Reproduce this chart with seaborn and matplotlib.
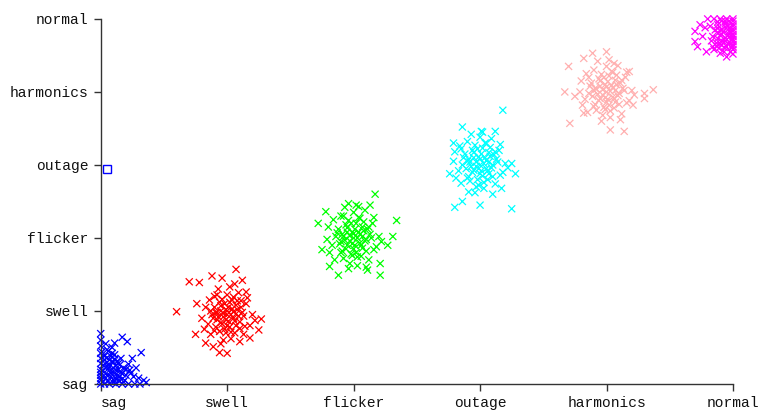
import numpy as np
import pandas as pd
import matplotlib
matplotlib.use('Agg')
import matplotlib.pyplot as plt
import seaborn as sns

categories = ['sag', 'swell', 'flicker', 'outage', 'harmonics', 'normal']
colors = ['#0000ff', '#ff0000', '#00ff00', '#00ffff', '#ffb0b0', '#ff00ff']

# points (category units, clipped to 0..5)
sag_x = [0.0, 0.0, 0.0, 0.0, 0.0, 0.0, 0.0, 0.0, 0.0, 0.0,
         0.03, 0.07, 0.12, 0.17, 0.22, 0.27, 0.31, 0.36,
         0.04, 0.08, 0.05, 0.1, 0.13, 0.09, 0.03, 0.15, 0.18, 0.06, 0.11, 0.02,
         0.07, 0.14, 0.2, 0.16, 0.04, 0.09, 0.19, 0.24, 0.22, 0.12, 0.05, 0.1,
         0.17, 0.32, 0.34, 0.21, 0.25, 0.23, 0.30, 0.11, 0.05, 0.28, 0.26]
sag_y = [0.0, 0.05, 0.12, 0.2, 0.28, 0.35, 0.42, 0.52, 0.69, 0.6,
         0.0, 0.0, 0.0, 0.0, 0.0, 0.0, 0.0, 0.02,
         0.08, 0.15, 0.25, 0.06, 0.18, 0.3, 0.38, 0.1, 0.22, 0.45, 0.4, 0.18,
         0.33, 0.28, 0.12, 0.35, 0.55, 0.5, 0.05, 0.15, 0.27, 0.07, 0.12, 0.22,
         0.64, 0.43, 0.05, 0.58, 0.35, 0.19, 0.08, 0.56, 0.47, 0.22, 0.1]
sag_core_x = [0.02, 0.06, 0.1, 0.14, 0.18, 0.04, 0.08, 0.12, 0.16, 0.02,
              0.06, 0.1, 0.14, 0.03, 0.07, 0.11, 0.15, 0.05, 0.09, 0.13,
              0.01, 0.0, 0.0, 0.08, 0.2, 0.17, 0.12, 0.05, 0.15, 0.1]
sag_core_y = [0.03, 0.04, 0.02, 0.05, 0.03, 0.14, 0.1, 0.13, 0.16, 0.26,
              0.21, 0.3, 0.2, 0.33, 0.24, 0.34, 0.26, 0.36, 0.42, 0.31,
              0.44, 0.08, 0.16, 0.38, 0.2, 0.14, 0.26, 0.3, 0.04, 0.16]

swell_x = [1.0, 0.95, 1.05, 0.92, 1.08, 0.98, 1.02, 0.9, 1.1, 0.96,
           1.04, 0.88, 1.12, 0.94, 1.06, 1.0, 0.85, 1.15, 0.9, 1.09,
           0.83, 1.18, 0.97, 1.03, 0.87, 1.13, 0.93, 1.02, 0.8, 1.2,
           0.99, 1.07, 0.91, 1.01, 0.86, 1.16, 0.95, 1.1, 0.82, 1.22,
           1.07, 0.88, 0.70, 0.60, 0.96, 1.12, 0.78, 0.75, 0.94, 1.0,
           1.27, 1.25, 1.18, 0.89, 0.76, 0.83, 1.15, 1.06]
swell_y = [0.95, 1.0, 0.9, 0.88, 1.02, 1.1, 0.78, 1.05, 0.85, 0.82,
           1.15, 0.95, 0.98, 0.72, 0.7, 1.22, 0.82, 1.1, 1.2, 1.25,
           1.05, 0.8, 0.6, 0.62, 0.68, 0.68, 1.3, 1.33, 0.9, 0.95,
           0.88, 0.8, 0.98, 1.05, 1.15, 1.18, 0.55, 0.58, 0.75, 0.87,
           1.57, 1.48, 1.40, 0.99, 1.45, 1.42, 1.39, 0.68, 0.43, 0.42,
           0.89, 0.74, 0.63, 0.51, 1.1, 0.56, 1.26, 1.37]
swell_core_x = [0.93, 0.97, 1.01, 1.05, 1.09, 0.91, 0.95, 0.99, 1.03, 1.07,
                1.11, 0.89, 0.94, 0.98, 1.02, 1.06, 1.1, 0.92, 0.96, 1.0,
                1.04, 1.08, 0.9, 0.97, 1.03, 1.13, 0.87, 1.0, 0.95, 1.05,
                1.11, 0.92, 0.99, 1.07, 1.14]
swell_core_y = [0.92, 0.97, 0.86, 0.99, 0.93, 0.78, 0.84, 1.02, 0.95, 1.08,
                1.05, 0.9, 1.12, 0.75, 1.12, 0.86, 0.76, 0.98, 1.16, 0.8,
                1.03, 1.14, 0.73, 0.92, 0.71, 0.93, 1.0, 1.0, 1.07, 1.19,
                1.14, 1.22, 0.7, 0.96, 0.79]

flicker_x = [2.0, 1.95, 2.05, 1.9, 2.08, 1.98, 2.02, 1.88, 2.1, 1.94,
             2.04, 1.86, 2.13, 1.92, 2.06, 2.0, 1.83, 2.15, 1.9, 2.09,
             1.8, 2.18, 1.97, 2.03, 1.85, 2.12, 1.93, 2.02, 1.79, 2.2,
             1.99, 2.07, 1.91, 2.01, 1.84, 2.16, 1.96, 2.1, 1.81, 2.22,
             2.17, 2.34, 1.72, 2.13, 2.21, 2.21, 1.81, 1.88, 2.31, 2.27,
             1.75, 1.78, 2.04, 1.96, 2.11]
flicker_y = [2.0, 2.08, 1.93, 1.95, 2.1, 2.2, 1.8, 2.12, 1.98, 1.85,
             2.28, 2.02, 2.05, 1.72, 1.75, 2.35, 1.9, 2.2, 2.3, 2.38,
             2.15, 1.88, 1.65, 1.62, 1.7, 1.7, 2.42, 2.45, 1.98, 2.02,
             1.92, 1.86, 2.05, 2.12, 2.25, 2.28, 1.58, 1.6, 1.8, 1.95,
             2.60, 2.24, 2.20, 2.45, 1.49, 1.65, 1.61, 1.49, 2.02, 1.90,
             1.84, 2.36, 2.43, 2.47, 1.56]
flicker_core_x = [1.93, 1.97, 2.01, 2.05, 2.09, 1.91, 1.95, 1.99, 2.03, 2.07,
                  2.11, 1.89, 1.94, 1.98, 2.02, 2.06, 2.1, 1.92, 1.96, 2.0,
                  2.04, 2.08, 1.9, 1.97, 2.03, 2.14, 1.87, 2.0, 1.95, 2.05,
                  2.12, 1.92, 1.99, 2.07, 2.16]
flicker_core_y = [1.97, 2.03, 1.9, 2.05, 1.96, 1.82, 1.9, 2.08, 2.0, 2.15,
                  2.12, 1.92, 2.18, 1.78, 2.2, 1.9, 1.82, 2.02, 2.24, 1.85,
                  2.08, 2.22, 1.8, 1.96, 1.74, 2.0, 2.07, 2.06, 2.14, 2.27,
                  2.15, 2.3, 1.76, 2.02, 1.84]

outage_x = [3.0, 2.95, 3.05, 2.9, 3.08, 2.98, 3.02, 2.88, 3.1, 2.94,
            3.04, 2.86, 3.13, 2.92, 3.06, 3.0, 2.83, 3.15, 2.9, 3.09,
            2.8, 3.18, 2.97, 3.03, 2.85, 3.12, 2.93, 3.02, 2.79, 3.2,
            2.99, 3.07, 2.91, 3.01, 2.84, 3.16, 2.96, 3.1, 2.81, 3.22,
            3.18, 2.86, 2.76, 2.80, 2.86, 3.0, 3.25, 3.28, 3.12, 3.01,
            2.91, 3.17, 2.79, 3.25]
outage_y = [3.0, 3.1, 2.95, 3.05, 3.12, 3.22, 2.85, 3.15, 3.0, 2.9,
            3.3, 3.0, 3.08, 2.78, 2.8, 3.38, 2.92, 3.2, 3.32, 3.36,
            3.18, 2.9, 2.7, 2.68, 2.75, 2.74, 3.42, 3.45, 3.05, 3.02,
            2.95, 2.88, 3.08, 3.15, 3.26, 3.28, 2.62, 2.6, 2.82, 2.96,
            3.75, 3.52, 2.88, 2.42, 2.50, 2.45, 2.40, 2.88, 3.46, 3.46,
            2.63, 2.68, 3.30, 3.02]
outage_core_x = [2.93, 2.97, 3.01, 3.05, 3.09, 2.91, 2.95, 2.99, 3.03, 3.07,
                 3.11, 2.89, 2.94, 2.98, 3.02, 3.06, 3.1, 2.92, 2.96, 3.0,
                 3.04, 3.08, 2.9, 2.97, 3.03, 3.14, 2.87, 3.0, 2.95, 3.05,
                 3.12, 2.85, 2.99, 3.07, 3.16]
outage_core_y = [2.98, 3.04, 2.92, 3.06, 2.96, 2.84, 2.93, 3.11, 3.02, 3.17,
                 3.14, 2.95, 3.2, 2.8, 3.23, 2.92, 2.84, 3.04, 3.27, 2.88,
                 3.1, 3.24, 2.82, 2.98, 2.76, 3.04, 3.1, 3.08, 3.17, 3.3,
                 3.18, 3.22, 2.72, 3.04, 2.86]

harmonics_x = [4.0, 3.95, 4.05, 3.9, 4.08, 3.98, 4.02, 3.88, 4.1, 3.94,
               4.04, 3.86, 4.13, 3.92, 4.06, 4.0, 3.83, 4.15, 3.9, 4.09,
               3.8, 4.18, 3.97, 4.03, 3.85, 4.12, 3.93, 4.02, 3.79, 4.2,
               3.99, 4.07, 3.91, 4.01, 3.84, 4.16, 3.96, 4.11, 3.81, 4.22,
               3.70, 3.67, 3.71, 4.37, 4.30, 4.30, 4.14, 4.03, 4.0, 3.89,
               3.82, 4.06, 4.18, 3.75, 4.21, 3.82]
harmonics_y = [4.0, 4.08, 3.93, 4.02, 4.1, 4.2, 3.82, 4.12, 3.98, 3.88,
               4.28, 3.98, 4.05, 3.75, 3.78, 4.35, 3.9, 4.2, 4.3, 4.36,
               4.15, 3.88, 3.68, 3.65, 3.72, 3.7, 4.42, 4.44, 4.0, 4.02,
               3.92, 3.86, 4.05, 4.14, 4.25, 4.27, 3.6, 3.62, 3.82, 3.96,
               4.35, 4.0, 3.57, 4.03, 3.98, 3.91, 3.46, 3.48, 4.55, 4.53,
               4.46, 4.39, 4.28, 3.94, 3.82, 3.71]
harmonics_core_x = [3.93, 3.97, 4.01, 4.05, 4.09, 3.91, 3.95, 3.99, 4.03, 4.07,
                    4.11, 3.89, 3.94, 3.98, 4.02, 4.06, 4.1, 3.92, 3.96, 4.0,
                    4.04, 4.08, 3.9, 3.97, 4.03, 4.14, 3.87, 4.0, 3.95, 4.05,
                    4.12, 3.86, 3.99, 4.07, 4.16]
harmonics_core_y = [3.97, 4.03, 3.9, 4.06, 3.95, 3.83, 3.91, 4.1, 4.01, 4.16,
                    4.12, 3.94, 4.18, 3.79, 4.22, 3.91, 3.83, 4.04, 4.24, 3.86,
                    4.09, 4.23, 3.8, 3.96, 3.74, 4.02, 4.08, 4.07, 4.15, 4.27,
                    4.16, 4.2, 3.76, 4.02, 3.85]

normal_x = [5.0, 5.0, 5.0, 5.0, 5.0, 5.0, 5.0, 5.0, 4.95, 4.9,
            4.85, 4.8, 4.96, 4.92, 4.88, 4.97, 4.91, 4.86, 4.95, 4.89,
            4.84, 4.82, 4.98, 4.93, 4.87, 4.83, 4.94, 4.97, 4.9, 4.85,
            4.70, 4.70, 4.74, 4.79, 4.95, 4.84, 4.9, 4.76, 4.78, 4.72]
normal_y = [5.0, 4.93, 4.86, 4.79, 4.72, 4.65, 4.58, 4.52, 5.0, 5.0,
            5.0, 5.0, 4.9, 4.82, 4.92, 4.75, 4.7, 4.85, 4.62, 4.6,
            4.76, 4.9, 4.55, 4.55, 4.67, 4.7, 4.97, 4.83, 4.78, 4.58,
            4.83, 4.69, 4.92, 4.55, 4.48, 4.62, 4.53, 4.76, 4.88, 4.62]
normal_core_x = [5.0, 5.0, 5.0, 5.0, 5.0, 5.0, 4.97, 4.94, 4.91, 4.88,
                 4.97, 4.94, 4.91, 4.88, 4.97, 4.94, 4.91, 4.88, 4.97, 4.94,
                 4.91, 4.88, 4.99, 4.96, 4.93, 4.9, 4.87, 4.99, 4.96, 4.93]
normal_core_y = [4.97, 4.9, 4.83, 4.76, 4.69, 4.62, 4.97, 4.94, 4.97, 4.96,
                 4.87, 4.89, 4.86, 4.87, 4.79, 4.74, 4.79, 4.8, 4.68, 4.7,
                 4.64, 4.73, 4.61, 4.66, 4.61, 4.66, 4.63, 4.72, 4.78, 4.68]

# the lone square marker near the outage row
odd_x = [0.05]
odd_y = [2.95]

series = {
    'sag': (sag_x + sag_core_x, sag_y + sag_core_y),
    'swell': (swell_x + swell_core_x, swell_y + swell_core_y),
    'flicker': (flicker_x + flicker_core_x, flicker_y + flicker_core_y),
    'outage': (outage_x + outage_core_x, outage_y + outage_core_y),
    'harmonics': (harmonics_x + harmonics_core_x, harmonics_y + harmonics_core_y),
    'normal': (normal_x + normal_core_x, normal_y + normal_core_y),
}
df = pd.concat([pd.DataFrame({'x': xs, 'y': ys, 'cls': name})
                for name, (xs, ys) in series.items()], ignore_index=True)

sns.set_style('ticks')
plt.rcParams['font.family'] = ['Liberation Mono', 'DejaVu Sans Mono']

fig = plt.figure(figsize=(7.59, 4.12), dpi=100)
ax = fig.add_axes([0.1327, 0.068, 0.9657 - 0.1327, 0.954 - 0.068])

sns.scatterplot(data=df, x='x', y='y', hue='cls', hue_order=categories,
                palette=dict(zip(categories, colors)), marker='x', s=26,
                linewidth=0.9, legend=False, clip_on=False, ax=ax)
ax.plot(odd_x, odd_y, 's', mfc='none', mec='#0000ff', ms=6, mew=1, clip_on=False)

ax.set_xlim(0, 5)
ax.set_ylim(0, 5)
ax.set_xticks(range(len(categories)))
ax.set_xticklabels(categories)
ax.set_yticks(range(len(categories)))
ax.set_yticklabels(categories)
ax.get_xticklabels()[0].set_ha('left')
ax.set_xlabel('')
ax.set_ylabel('')
ax.tick_params(direction='out', length=5, width=1, color='#333333',
               labelsize=10.5, labelcolor='#111111', pad=4)
for side in ['left', 'bottom']:
    ax.spines[side].set_color('#333333')
    ax.spines[side].set_linewidth(1)
sns.despine(ax=ax)

fig.savefig('out.png', dpi=100)
